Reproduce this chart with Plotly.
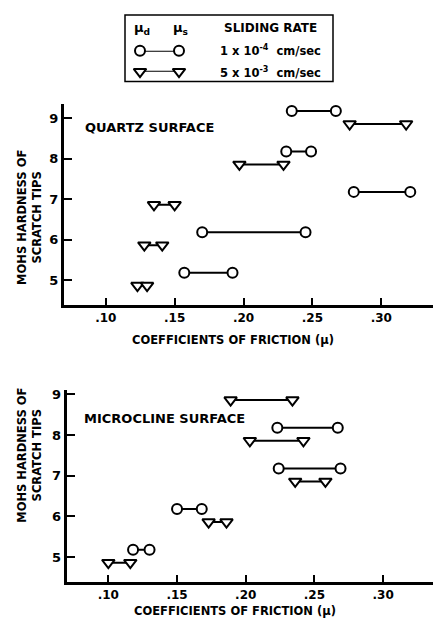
import plotly.graph_objects as go

W, H = 436, 625

# ---------------- data ----------------
hardness = [5, 6, 7, 8, 9]
x_ticks = [0.10, 0.15, 0.20, 0.25, 0.30]
x_tick_labels = [".10", ".15", ".20", ".25", ".30"]

# Quartz surface
quartz_slow_mu_d = [0.157, 0.170, 0.280, 0.231, 0.235]
quartz_slow_mu_s = [0.192, 0.245, 0.321, 0.249, 0.267]
quartz_fast_mu_d = [0.123, 0.128, 0.135, 0.197, 0.277]
quartz_fast_mu_s = [0.130, 0.141, 0.150, 0.229, 0.318]

# Microcline surface
micro_slow_mu_d = [0.118, 0.150, 0.224, 0.223, 0.229]
micro_slow_mu_s = [0.130, 0.168, 0.269, 0.267, 0.267]
micro_fast_mu_d = [0.100, 0.173, 0.236, 0.203, 0.189]
micro_fast_mu_s = [0.116, 0.186, 0.258, 0.242, 0.234]

SLOW_OFFSET = 0.18
FAST_OFFSET = -0.14

FONT = "DejaVu Sans"


def px_x(p):
    return p / W


def px_y(p):
    return 1 - p / H


def pairs(d, s, off):
    xs, ys = [], []
    for h, a, b in zip(hardness, d, s):
        xs += [a, b, None]
        ys += [h + off, h + off, None]
    return xs, ys


CIRCLE = dict(symbol="circle", size=10, color="white", line=dict(width=2, color="black"))
TRI = dict(symbol="triangle-down", size=11, color="white", line=dict(width=2, color="black"))

fig = go.Figure()

panels = [
    ("x", "y", quartz_slow_mu_d, quartz_slow_mu_s, quartz_fast_mu_d, quartz_fast_mu_s),
    ("x2", "y2", micro_slow_mu_d, micro_slow_mu_s, micro_fast_mu_d, micro_fast_mu_s),
]
for xa, ya, sd, ss, fd, fs in panels:
    xs, ys = pairs(sd, ss, SLOW_OFFSET)
    fig.add_trace(go.Scatter(
        x=xs, y=ys, xaxis=xa, yaxis=ya, mode="lines+markers",
        line=dict(color="black", width=2), marker=CIRCLE,
        cliponaxis=False, showlegend=False, hoverinfo="skip"))
    xs, ys = pairs(fd, fs, FAST_OFFSET)
    fig.add_trace(go.Scatter(
        x=xs, y=ys, xaxis=xa, yaxis=ya, mode="lines+markers",
        line=dict(color="black", width=2), marker=TRI,
        cliponaxis=False, showlegend=False, hoverinfo="skip"))

# legend samples on a hidden axis
fig.add_trace(go.Scatter(
    x=[0, 1], y=[1, 1], xaxis="x3", yaxis="y3", mode="lines+markers",
    line=dict(color="black", width=2), marker=CIRCLE,
    cliponaxis=False, showlegend=False, hoverinfo="skip"))
fig.add_trace(go.Scatter(
    x=[0, 1], y=[0, 0], xaxis="x3", yaxis="y3", mode="lines+markers",
    line=dict(color="black", width=2), marker=TRI,
    cliponaxis=False, showlegend=False, hoverinfo="skip"))

xcommon = dict(
    tickvals=x_ticks, ticktext=x_tick_labels, showline=True, linewidth=3,
    linecolor="black", ticks="inside", ticklen=7, tickwidth=1.5, tickcolor="black",
    showgrid=False, zeroline=False,
    tickfont=dict(family=FONT, size=12, color="black", weight="bold"))
ycommon = dict(
    tickvals=hardness, showline=True, linewidth=3, linecolor="black",
    ticks="inside", ticklen=8, tickwidth=1.5, tickcolor="black",
    showgrid=False, zeroline=False,
    tickfont=dict(family=FONT, size=13, color="black", weight="bold"))

fig.update_layout(
    width=W, height=H, margin=dict(l=0, r=0, t=0, b=0),
    paper_bgcolor="white", plot_bgcolor="white",
    xaxis=dict(domain=[px_x(64), px_x(433)], range=[0.0697, 0.3375], anchor="y", **xcommon),
    yaxis=dict(domain=[px_y(303.3), px_y(101.7)], range=[4.384, 9.35], anchor="x", **ycommon),
    xaxis2=dict(domain=[px_x(66.7), px_x(433)], range=[0.0697, 0.3363], anchor="y2", **xcommon),
    yaxis2=dict(domain=[px_y(581.7), px_y(389)], range=[4.388, 9.105], anchor="x2", **ycommon),
    xaxis3=dict(domain=[px_x(140), px_x(179)], range=[0, 1], visible=False, anchor="y3"),
    yaxis3=dict(domain=[px_y(69), px_y(48)], range=[0, 1], visible=False, anchor="x3"),
)

# legend box
fig.add_shape(type="rect", xref="paper", yref="paper",
              x0=px_x(125), x1=px_x(333), y0=px_y(79), y1=px_y(12),
              line=dict(color="black", width=1.5))

ann = []


def txt(text, x, y, size=11, angle=0, xanchor="center"):
    ann.append(dict(text=text, x=px_x(x), y=px_y(y), xref="paper", yref="paper",
                    showarrow=False, textangle=angle, xanchor=xanchor, yanchor="middle",
                    font=dict(family=FONT, size=size, color="black", weight="bold")))


txt("μ<sub>d</sub>", 142, 26, size=13)
txt("μ<sub>s</sub>", 180, 26, size=13)
txt("SLIDING RATE", 270, 25, size=12)
txt("1 x 10<sup>-4</sup>  cm/sec", 270, 48, size=11.5)
txt("5 x 10<sup>-3</sup>  cm/sec", 270, 70, size=11.5)

txt("QUARTZ SURFACE", 83, 125, size=13, xanchor="left")
txt("MICROCLINE SURFACE", 82, 418, size=13, xanchor="left")

txt("COEFFICIENTS OF FRICTION (μ)", 233, 339, size=11.5)
txt("COEFFICIENTS OF FRICTION (μ)", 235, 611, size=11.5)

txt("MOHS HARDNESS OF<br>SCRATCH TIPS", 30, 216, size=11.5, angle=-90)
txt("MOHS HARDNESS OF<br>SCRATCH TIPS", 30, 455, size=11.5, angle=-90)

fig.update_layout(annotations=ann)

fig.write_html("out.html")
